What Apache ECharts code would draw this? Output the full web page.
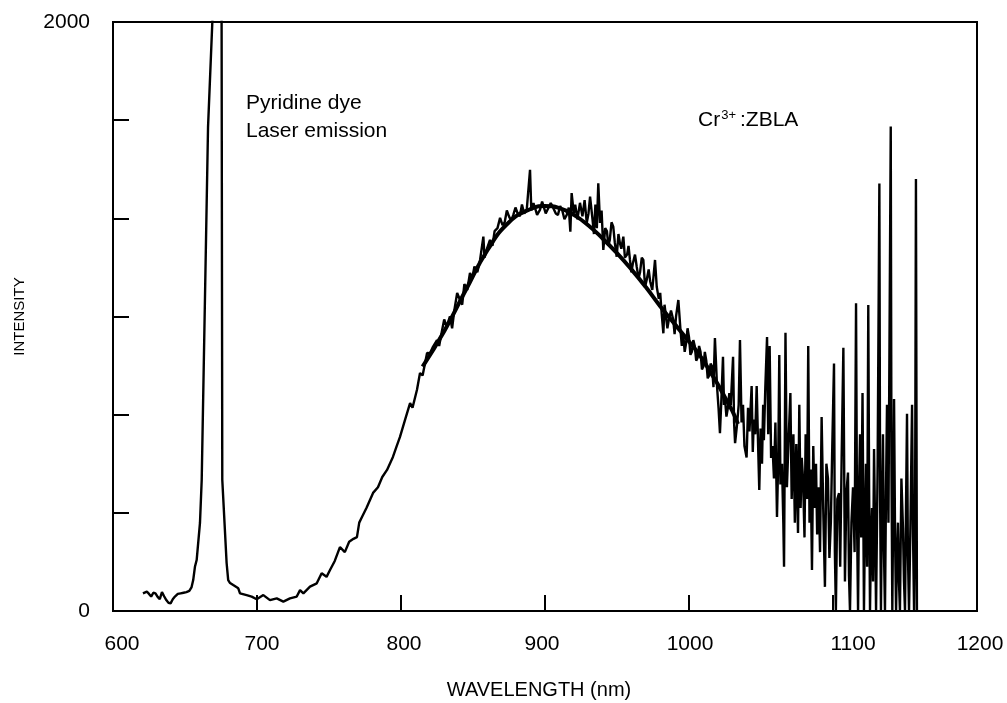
<!DOCTYPE html>
<html>
<head>
<meta charset="utf-8">
<script src="https://cdn.jsdelivr.net/npm/echarts@6/dist/echarts.min.js"></script>
<style>
html,body{margin:0;padding:0;background:#fff;}
#chart{width:1007px;height:703px;}
</style>
</head>
<body>
<div id="chart"></div>
<script>
// ---- data (wavelength nm, intensity) ----
const xTickValues = [600, 700, 800, 900, 1000, 1100, 1200];
const yLabelValues = [0, 2000];
const yTickStep = 2000 / 6;

// measured emission spectrum (raw, noisy trace incl. pump laser line)
const rawWavelength = [
  620.8,622,623.5,625,626.5,628,629.5,631,632.5,634,635.5,637,638.5,640,641.5,643,645,647,649,651,653,654.5,655.7,656.9,658.1,
  660.4,661.6,666,669.4,672.5,675.4,675.9,678.9,680,681.3,683.5,687,688.2,692.8,696.3,699.8,704.4,709,713.7,718.3,722.9,727.6,
  729.9,732.2,736.8,741.5,744.9,748.3,750.7,754,757.6,761,764,767,769.4,771,772.9,776,780.6,784,787,790.3,794.4,797,799.3,
  802.8,806.3,808,811.1,813.2,815,818.1,820.1,822.2,825,826.5,828,830,831.7,834,835.5,837,839,841,842.5,844,846,847.9,849.5,851,853,854.9,
  857.2,858,860,861.8,863.5,865,867,868.8,870.5,872,873.5,875,876.5,878,879.5,881,882.5,884,885.5,887.3,889.6,890.5,892,893,894.5,896.5,
  898,899,900.5,902,904,905.8,907.5,909,910.5,912,913.5,915.1,916.5,917.6,918.5,920,921,922.5,924.3,926,927.5,929,930.2,931.3,933,
  934,935,936,937,938.2,939.3,940.5,941.8,943,944,945,946.2,947.4,948.5,949.8,951,952,953,954.4,955.5,957,958,959,960,961,962.5,963.7,965,966,
  967.2,968.3,969.5,970.6,972,973,974.5,976.4,977.6,979,980,981,982.2,983,984,985,986,987.5,989.1,990,991,992.6,994,995,996,997,998,999,1000,
  1001,1002,1003,1004,1005,1006,1007,1008,1009,1010,1011,1012,1013,1014,1015,1016,1017,1018,1019.5,1020.5,1021.5,1022.5,1023.6,1024.3,1025,
  1026,1027,1028,1029,1030.6,1031.3,1032,1033.5,1034.5,1035.4,
  1036.5,1037.5,1038.5,1040,1041,1042,1043.5,1044.3,1045,1046,1047,1048,1048.8,1049.7,1050.7,1051.5,1052,1053,1054.2,1055,1056,1057,
  1058,1059,1060,1061.1,1062,1062.7,1063.5,1064.6,1065.5,1066,1067,1068,1069,1070.4,1071.3,1072.5,1073.5,1074.5,1075.7,1076.6,1077.5,
  1078.3,1079.2,1080.2,1081,1082,1082.8,1083.7,1084.5,1085.4,1086.3,1087.2,1088.2,1089,1090,1091,1092.1,1093.2,1094.4,1095.4,1096.5,
  1097.5,1098.5,1099.5,1100.7,1101.3,1102,1103,1104.2,1105,1106,1107.2,1108.3,1109.3,1110.4,1111.1,1111.8,1112.8,1113.9,1115,1116,
  1116.7,1117.4,1118.2,1118.8,1119.6,1120.5,1121.5,1122.2,1122.9,1123.7,1124.5,1125.1,1125.7,1126.4,1127.1,1127.8,1128.5,1129.2,1129.9,
  1131,1132.2,1132.7,1133.3,1134,1134.7,1135.4,1136.1,1136.8,1137.5,1138.5,1140.1,1140.6,1141.2,1141.8,1142.4,1143.1,1143.8,1144.5,
  1145.1,1145.8,1146.5,1147.5,1148.6,1149.3,1150,1150.7,1151.4,1152,1152.8,1153.8,1154.9,1155.6,1156.3,1157,1157.6,1158.3
];
const rawIntensity = [
  60,55,66,58,49,62,60,48,40,64,50,37,28,26,40,49,58,60,62,64,68,80,105,150,173,
  299,445,1644,2050,2700,2050,445,163,105,95,88,77,60,54,49,40,54,37,43,32,43,49,
  71,60,83,94,128,116,139,170,217,200,235,245,251,300,319,350,401,420,455,479,523,560,591,
  649,706,690,751,808,800,876,875,897,920,900,940,990,966,1000,960,1020,1080,1056,1040,1110,1090,1148,1130,1170,1150,1192,
  1271,1200,1235,1260,1240,1290,1300,1335,1310,1320,1360,1340,1325,1345,1370,1350,1340,1380,1350,1361,1498,1360,1385,1370,1345,1362,
  1390,1375,1350,1365,1385,1368,1350,1345,1375,1360,1330,1345,1370,1288,1419,1350,1380,1330,1386,1340,1395,1318,1350,1407,1330,
  1280,1380,1300,1452,1318,1360,1226,1300,1290,1240,1260,1320,1305,1250,1203,1280,1250,1230,1271,1200,1210,1240,1192,1150,1180,1210,1169,1130,1150,
  1200,1192,1100,1124,1160,1120,1090,1192,1101,1060,1080,1011,943,1040,1000,960,990,1020,988,940,1000,1056,960,900,940,880,910,960,930,
  870,880,920,900,850,860,900,880,820,830,880,850,790,800,840,830,760,927,760,690,604,720,863,700,720,
  660,690,740,700,863,640,570,640,700,920,
  640,700,560,521,690,610,764,540,650,600,764,560,411,620,500,700,580,760,930,600,900,520,
  560,450,640,319,520,869,430,500,300,150,945,420,560,740,380,600,300,567,265,700,350,
  520,450,250,600,380,900,300,480,139,560,350,500,260,420,200,659,350,82,500,450,
  180,300,560,840,200,0,380,400,150,520,894,100,400,470,120,0,300,420,200,1045,
  300,0,450,600,250,740,0,300,500,150,1039,400,0,250,350,100,550,300,0,
  500,1452,400,0,350,600,200,0,400,700,300,1645,500,0,350,720,250,0,200,
  300,100,0,450,280,100,0,350,670,200,0,300,700,250,0,300,1467,0
];

// smooth fitted curve drawn over the band
const fitWavelength = [815,830,845,860,875,890,900,910,920,930,940,950,960,970,980,990,1000,1005,1010,1015,1020,1025,1030,1034];
const fitIntensity  = [830,950,1090,1225,1320,1365,1375,1368,1345,1310,1265,1215,1160,1100,1035,975,915,885,850,810,770,725,680,635];

// per-label horizontal nudge (px) to match the printed tick label placement
const xLabelNudge = {600: 9, 700: 5, 800: 3, 900: -3, 1000: 1, 1100: 20, 1200: 3};

const rawData = rawWavelength.map((x, i) => [x, rawIntensity[i]]);
const fitData = fitWavelength.map((x, i) => [x, fitIntensity[i]]);

const FONT = "'Liberation Sans', Arial, Helvetica, sans-serif";

const xRich = {};
xTickValues.forEach(v => {
  const d = xLabelNudge[v] || 0;
  xRich['l' + v] = {
    fontSize: 21, fontFamily: FONT, color: '#000',
    padding: d >= 0 ? [0, 0, 0, 2 * d] : [0, -2 * d, 0, 0]
  };
});

const chart = echarts.init(document.getElementById('chart'), null, {renderer: 'canvas'});
chart.setOption({
  animation: false,
  backgroundColor: '#ffffff',
  grid: {
    left: 113, right: 30, top: 22, bottom: 92,
    show: true, borderColor: '#000', borderWidth: 2,
    outerBoundsMode: 'none'
  },
  xAxis: {
    type: 'value', min: 600, max: 1200, interval: 100,
    name: 'WAVELENGTH (nm)', nameLocation: 'middle', nameGap: 69,
    nameTextStyle: {color: '#000', fontSize: 20, fontFamily: FONT, padding: [0, 12, 0, 0]},
    axisLine: {show: true, lineStyle: {color: '#000', width: 2}},
    axisTick: {show: true, inside: true, length: 16, lineStyle: {color: '#000', width: 2}},
    axisLabel: {
      color: '#000', fontSize: 21, fontFamily: FONT, margin: 23, rich: xRich,
      formatter: v => {
        const r = Math.round(v);
        return xTickValues.includes(r) ? '{l' + r + '|' + r + '}' : '';
      }
    },
    splitLine: {show: false}
  },
  yAxis: {
    type: 'value', min: 0, max: 2000, interval: yTickStep,
    name: 'INTENSITY', nameLocation: 'middle', nameGap: 86, nameRotate: 90,
    nameTextStyle: {color: '#000', fontSize: 15, fontFamily: FONT},
    axisLine: {show: true, lineStyle: {color: '#000', width: 2}},
    axisTick: {show: true, inside: true, length: 16, lineStyle: {color: '#000', width: 2}},
    axisLabel: {
      color: '#000', fontSize: 21, fontFamily: FONT, margin: 23,
      formatter: v => {
        const hit = yLabelValues.find(t => Math.abs(t - v) < 1e-3);
        return hit === undefined ? '' : String(hit);
      }
    },
    splitLine: {show: false}
  },
  series: [
    {
      name: 'spectrum', type: 'line', data: rawData, showSymbol: false, symbol: 'none',
      lineStyle: {color: '#000', width: 2.4}, clip: true, z: 2
    },
    {
      name: 'fit', type: 'line', data: fitData, showSymbol: false, symbol: 'none', smooth: true,
      lineStyle: {color: '#000', width: 4}, clip: true, z: 3
    }
  ],
  graphic: [
    {type: 'text', left: 246, top: 93, style: {text: 'Pyridine dye', fill: '#000', font: '21px ' + FONT}},
    {type: 'text', left: 246, top: 121, style: {text: 'Laser emission', fill: '#000', font: '21px ' + FONT}},
    {type: 'text', left: 698, top: 109, style: {
      text: '{a|Cr}{b|3+}{a|:ZBLA}',
      rich: {
        a: {fontSize: 21, fontFamily: FONT, fill: '#000', color: '#000'},
        b: {fontSize: 13, fontFamily: FONT, fill: '#000', color: '#000', verticalAlign: 'top', padding: [0, 4, 9, 1]}
      }
    }}
  ]
});
</script>
</body>
</html>
